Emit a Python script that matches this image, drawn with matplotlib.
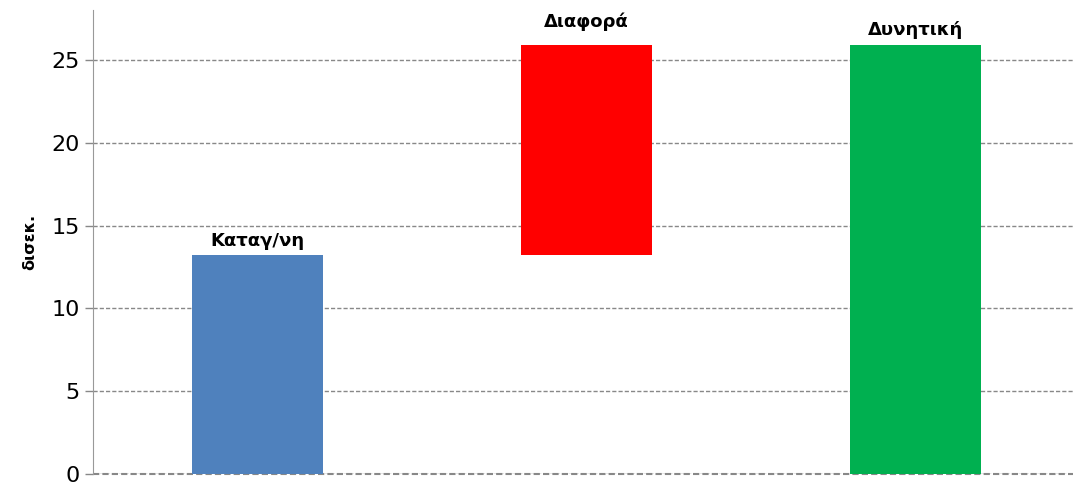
import matplotlib.pyplot as plt

categories = ["Καταγ/νη", "Διαφορά", "Δυνητική"]
bottoms = [0.0, 13.2, 0.0]
heights = [13.2, 12.7, 25.9]
colors = ["#4F81BD", "#FF0000", "#00B050"]
label_offsets = [10, 17, 11]  # points above bar top

fig = plt.figure(figsize=(10.73, 4.87), dpi=100)
ax = fig.add_axes([0.0867, 0.0267, 0.9198, 0.9523])

x = range(len(categories))
ax.bar(x, heights, bottom=bottoms, width=0.4, color=colors, zorder=3)

for i, (b, h) in enumerate(zip(bottoms, heights)):
    ax.annotate(categories[i], (i, b + h), xytext=(0, label_offsets[i]),
                textcoords="offset points", ha="center", va="center",
                fontsize=13, fontweight="bold")

ax.set_xlim(-0.5, 2.5)
ax.set_ylim(0, 28)
ax.set_yticks([0, 5, 10, 15, 20, 25])
ax.set_xticks([])
ax.tick_params(axis="y", labelsize=16, length=6, color="#888888", width=1)
ax.yaxis.grid(True, linestyle=(0, (3, 1.5)), color="#888888", linewidth=1, zorder=0)
ax.axhline(0, linestyle=(0, (3, 1.5)), color="#888888", linewidth=1.5,
           clip_on=False, zorder=2)
for s in ["top", "right", "bottom"]:
    ax.spines[s].set_visible(False)
ax.spines["left"].set_color("#999999")
ax.set_ylabel("δισεκ.", fontsize=11.5, fontweight="bold", labelpad=10)

fig.savefig("out.png", dpi=100)
